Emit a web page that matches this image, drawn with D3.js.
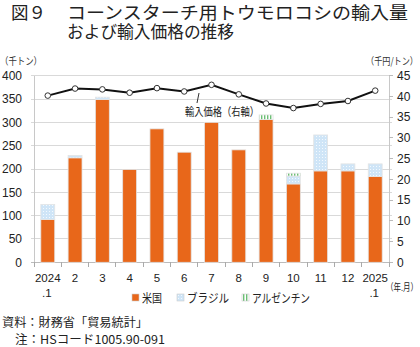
<!DOCTYPE html>
<html><head><meta charset="utf-8">
<script src="https://cdn.jsdelivr.net/npm/d3@7"></script>
<style>body{margin:0;background:#fff;}svg{display:block;}</style>
</head><body>
<script>
const months = ["2024|.1","2","3","4","5","6","7","8","9","10","11","12","2025|.1"];
const usVals = [92, 224, 349, 199, 286, 236, 300, 241, 306, 168, 196, 196, 184];
const brazilVals = [32, 5, 5, 0, 0, 0, 0, 0, 0, 17, 77, 15, 27];
const argentinaVals = [0, 0, 0, 0, 0, 0, 0, 0, 10, 6, 0, 0, 0];
const priceVals = [40.2, 41.9, 41.7, 40.9, 42.0, 41.2, 42.8, 40.5, 38.3, 37.2, 38.2, 38.9, 41.4];
const leftTicks = [0,50,100,150,200,250,300,350,400];
const rightTicks = [0,5,10,15,20,25,30,35,40,45];
const seriesNames = ["米国","ブラジル","アルゼンチン"];

const W=420,H=347;
const jp = "'Noto Sans CJK JP', sans-serif";
const num = "'Liberation Sans', Arial, sans-serif";
const svg = d3.select("body").append("svg").attr("width",W).attr("height",H);
const defs = svg.append("defs");
const pb = defs.append("pattern").attr("id","pbr").attr("patternUnits","userSpaceOnUse").attr("width",3).attr("height",3);
pb.append("rect").attr("width",3).attr("height",3).attr("fill","#cfe5f7");
pb.append("rect").attr("x",1).attr("y",1).attr("width",1).attr("height",1).attr("fill","#f3f9fe");
const pa = defs.append("pattern").attr("id","par").attr("patternUnits","userSpaceOnUse").attr("width",3).attr("height",3);
pa.append("rect").attr("width",3).attr("height",3).attr("fill","#ffffff");
pa.append("rect").attr("x",0).attr("y",0).attr("width",1.4).attr("height",3).attr("fill","#6cbf75");

const x0=34,x1=389,yT=75.7,yB=262.3;
const x = d3.scaleBand().domain(months).range([x0,x1]).paddingInner(0.49).paddingOuter(0.25);
const xb = d3.scaleBand().domain(months).range([x0,x1]);
const yL = d3.scaleLinear().domain([0,400]).range([yB,yT]);
const yR = d3.scaleLinear().domain([0,45]).range([yB,yT]);

// title
svg.append("text").attr("x",11).attr("y",19).attr("font-family",jp).attr("font-size",17.5).attr("fill","#222").text("図９");
svg.append("text").attr("x",67).attr("y",19).attr("font-family",jp).attr("font-size",17.5).attr("fill","#222")
  .attr("textLength",341).attr("lengthAdjust","spacingAndGlyphs").text("コーンスターチ用トウモロコシの輸入量");
svg.append("text").attr("x",67).attr("y",38).attr("font-family",jp).attr("font-size",17.5).attr("fill","#222")
  .attr("textLength",167).attr("lengthAdjust","spacingAndGlyphs").text("および輸入価格の推移");

// units
svg.append("text").attr("x",0).attr("y",65).attr("font-family",jp).attr("font-size",10).attr("fill","#333")
  .attr("textLength",42).attr("lengthAdjust","spacingAndGlyphs").text("（千トン）");
svg.append("text").attr("x",366).attr("y",65).attr("font-family",jp).attr("font-size",10).attr("fill","#333")
  .attr("textLength",52).attr("lengthAdjust","spacingAndGlyphs").text("（千円/トン）");

// grid
svg.append("g").selectAll("line").data(leftTicks).join("line")
  .attr("x1",x0-3).attr("x2",x1+3).attr("y1",d=>yL(d)).attr("y2",d=>yL(d))
  .attr("stroke",d=>d===0?"#bbb":"#d9d9d9").attr("stroke-width",1).attr("shape-rendering","crispEdges");
svg.append("line").attr("x1",x0).attr("x2",x0).attr("y1",yT).attr("y2",yB).attr("stroke","#c8c8c8").attr("shape-rendering","crispEdges");
svg.append("line").attr("x1",x1).attr("x2",x1).attr("y1",yT).attr("y2",yB).attr("stroke","#c8c8c8").attr("shape-rendering","crispEdges");
// right ticks
svg.append("g").selectAll("line").data(rightTicks).join("line")
  .attr("x1",x1).attr("x2",x1+4).attr("y1",d=>yR(d)).attr("y2",d=>yR(d)).attr("stroke","#bbb").attr("shape-rendering","crispEdges");
// x ticks at boundaries
const bounds = months.map(m=>xb(m)).concat([x1]);
svg.append("g").selectAll("line").data(bounds).join("line")
  .attr("x1",d=>d).attr("x2",d=>d).attr("y1",yB).attr("y2",yB+5).attr("stroke","#aaa").attr("shape-rendering","crispEdges");

// tick labels
svg.append("g").selectAll("text").data(leftTicks).join("text")
  .attr("x",22).attr("y",d=>yL(d)+4.3).attr("text-anchor","end").attr("font-family",num).attr("font-size",12).attr("fill","#222").text(d=>d);
svg.append("g").selectAll("text").data(rightTicks).join("text")
  .attr("x",397).attr("y",d=>yR(d)+4.3).attr("font-family",num).attr("font-size",12).attr("fill","#222").text(d=>d);

// bars
const stack = months.map((m,i)=>({m,us:usVals[i],br:brazilVals[i],ar:argentinaVals[i]}));
const g = svg.append("g");
stack.forEach(d=>{
  const bx=x(d.m), bw=x.bandwidth();
  let base=0;
  const segs=[[d.us,"#e8671a"],[d.br,"url(#pbr)"],[d.ar,"url(#par)"]];
  segs.forEach(([v,f])=>{
    if(v>0){
      g.append("rect").attr("x",bx).attr("width",bw).attr("y",yL(base+v)).attr("height",yL(base)-yL(base+v))
        .attr("fill",f).attr("stroke","#e4e4e4").attr("stroke-width",0.8);
    }
    base+=v;
  });
});

// line
const cx = m=>x(m)+x.bandwidth()/2;
const line = d3.line().x((d,i)=>cx(months[i])).y(d=>yR(d));
svg.append("path").datum(priceVals).attr("d",line).attr("fill","none").attr("stroke","#111").attr("stroke-width",2);
svg.append("g").selectAll("circle").data(priceVals).join("circle")
  .attr("cx",(d,i)=>cx(months[i])).attr("cy",d=>yR(d)).attr("r",2.8).attr("fill","#fff").attr("stroke","#333").attr("stroke-width",1);

// annotation
svg.append("line").attr("x1",197).attr("y1",103).attr("x2",199).attr("y2",93).attr("stroke","#333").attr("stroke-width",1);
svg.append("text").attr("x",185).attr("y",116).attr("font-family",jp).attr("font-size",11.5).attr("fill","#222")
  .attr("textLength",74).attr("lengthAdjust","spacingAndGlyphs").text("輸入価格（右軸）");

// x labels
months.forEach(m=>{
  const parts=m.split("|");
  svg.append("text").attr("x",cx(m)).attr("y",282).attr("text-anchor","middle").attr("font-family",num).attr("font-size",11.5).attr("fill","#222").text(parts[0]);
  if(parts[1]) svg.append("text").attr("x",cx(m)-1).attr("y",296.5).attr("text-anchor","middle").attr("font-family",num).attr("font-size",11.5).attr("fill","#222").text(parts[1]);
});
svg.append("text").attr("x",386).attr("y",291).attr("font-family",jp).attr("font-size",10).attr("fill","#222")
  .attr("textLength",32).attr("lengthAdjust","spacingAndGlyphs").text("（年.月）");

// legend
const legX=[132,177,242];
const legFill=["#e8671a","url(#pbr)","url(#par)"];
const legW=[20,42,58];
seriesNames.forEach((n,i)=>{
  svg.append("rect").attr("x",legX[i]).attr("y",294).attr("width",7).attr("height",7).attr("fill",legFill[i]).attr("stroke","#ccc").attr("stroke-width",0.6);
  svg.append("text").attr("x",legX[i]+10).attr("y",302.5).attr("font-family",jp).attr("font-size",12).attr("fill","#222")
    .attr("textLength",legW[i]).attr("lengthAdjust","spacingAndGlyphs").text(n);
});

// notes
svg.append("text").attr("x",2).attr("y",327).attr("font-family",jp).attr("font-size",12).attr("fill","#222")
  .attr("textLength",146).attr("lengthAdjust","spacingAndGlyphs").text("資料：財務省「貿易統計」");
svg.append("text").attr("x",15).attr("y",344).attr("font-family",jp).attr("font-size",12).attr("fill","#222")
  .attr("textLength",150).attr("lengthAdjust","spacingAndGlyphs").text("注：HSコード1005.90-091");
</script>
</body></html>
